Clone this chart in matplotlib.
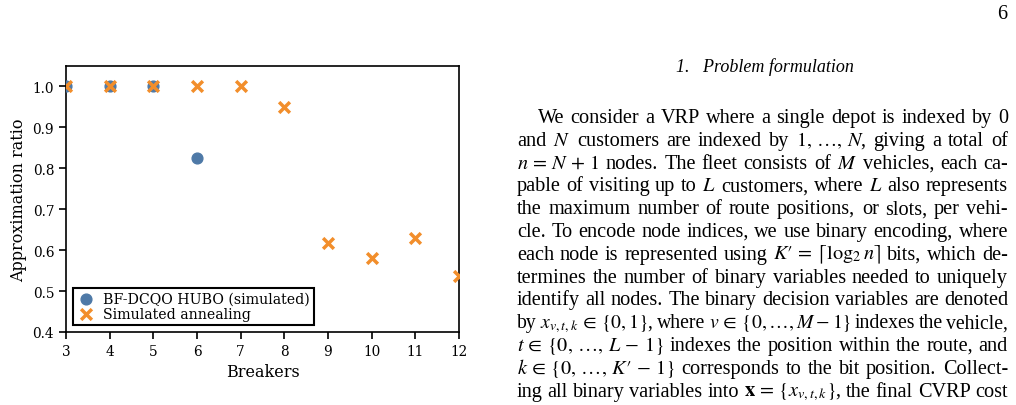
import matplotlib
matplotlib.use('Agg')
import matplotlib.pyplot as plt
import numpy as np

# data
breakers_hubo = [3, 4, 5, 6]
ratio_hubo = [1.0, 1.0, 1.0, 0.825]
breakers_sa = [3, 4, 5, 6, 7, 8, 9, 10, 11, 12]
ratio_sa = [1.0, 1.0, 1.0, 1.0, 1.0, 0.95, 0.618, 0.58, 0.63, 0.537]

W, H = 1016, 406
plt.rcParams['mathtext.fontset'] = 'stix'

fig = plt.figure(figsize=(W / 100, H / 100), dpi=100)

def px(x, y):
    return x / W, 1 - y / H

# ---- chart ----
ax = fig.add_axes([66 / W, 1 - 333 / H, (459 - 66) / W, (333 - 67) / H])
serif = 'DejaVu Serif'
ax.scatter(breakers_hubo, ratio_hubo, s=60, color='#4e79a7', marker='o',
           label='BF-DCQO HUBO (simulated)', zorder=3)
ax.scatter(breakers_sa, ratio_sa, s=60, color='#f28e2b', marker='x',
           linewidths=2.5, label='Simulated annealing', zorder=4)
ax.set_xlim(3, 12)
ax.set_ylim(0.4, 1.05)
ax.set_xticks(np.arange(3, 13, 1))
ax.set_yticks(np.arange(0.4, 1.01, 0.1))
ax.set_yticklabels(['%.1f' % v for v in np.arange(0.4, 1.01, 0.1)])
for lab in ax.get_xticklabels() + ax.get_yticklabels():
    lab.set_family(serif)
    lab.set_fontsize(9.8)
ax.tick_params(direction='out', length=5, width=1.2)
for sp in ax.spines.values():
    sp.set_linewidth(1.2)
ax.set_xlabel('Breakers', family=serif, fontsize=11.5)
ax.set_ylabel('Approximation ratio', family=serif, fontsize=11.5)
leg = ax.legend(loc='lower left', prop={'family': serif, 'size': 10.2},
                fancybox=False, edgecolor='black', framealpha=1,
                borderpad=0.3, handletextpad=0.6, labelspacing=0.05,
                borderaxespad=0.5, handlelength=1.2)
leg.get_frame().set_linewidth(1.5)

# ---- page text ----
tfont = 'Liberation Serif'
fs = 14.6
fig.text(*px(1007, 19), '6', family=tfont, fontsize=fs, ha='right', va='baseline')
fig.text(*px(765, 72), '1.   Problem formulation', family=tfont, style='italic',
         fontsize=13.0, ha='center', va='baseline')

para_lines = [
    r"We consider a VRP where a single depot is indexed by 0",
    r"and $N$ customers are indexed by $1,\,\ldots,\,N$, giving a total of",
    r"$n\,=\,N\,+\,1$ nodes. The fleet consists of $M$ vehicles, each ca-",
    r"pable of visiting up to $L$ customers, where $L$ also represents",
    r"the maximum number of route positions, or slots, per vehi-",
    r"cle. To encode node indices, we use binary encoding, where",
    r"each node is represented using $K\prime\,=\,\lceil\log_2{n}\rceil$ bits, which de-",
    r"termines the number of binary variables needed to uniquely",
    r"identify all nodes. The binary decision variables are denoted",
    r"by $x_{v,t,k}\,\in\,\{0,1\}$, where $v\,\in\,\{0,\ldots,M-1\}$ indexes the vehicle,",
    r"$t\,\in\,\{0,\,\ldots,\,L\,-\,1\}$ indexes the position within the route, and",
    r"$k\,\in\,\{0,\,\ldots,\,K\prime\,-\,1\}$ corresponds to the bit position. Collect-",
    r"ing all binary variables into $\mathbf{x}\,=\,\{x_{v,t,k}\}$, the final CVRP cost",
]
text_l, text_r, indent = 517, 1008, 21
base0, lead = 123, 22.8
min_gap = 3.5

fig.canvas.draw()
rend = fig.canvas.get_renderer()
for i, line in enumerate(para_lines):
    words = line.split(' ')
    x0 = text_l + (indent if i == 0 else 0)
    y = base0 + i * lead
    avail = text_r - x0
    arts = [fig.text(0, 0, w, family=tfont, fontsize=fs, va='baseline') for w in words]
    widths = [a.get_window_extent(rend).width for a in arts]
    need = avail - min_gap * (len(words) - 1)
    if sum(widths) > need:
        # squeeze an over-full line a little
        f = fs * need / sum(widths)
        for a in arts:
            a.set_fontsize(f)
        widths = [a.get_window_extent(rend).width for a in arts]
    gap = (avail - sum(widths)) / (len(words) - 1)
    x = x0
    for a, w in zip(arts, widths):
        a.set_position(px(x, y))
        x += w + gap

fig.savefig('out.png', dpi=100)
